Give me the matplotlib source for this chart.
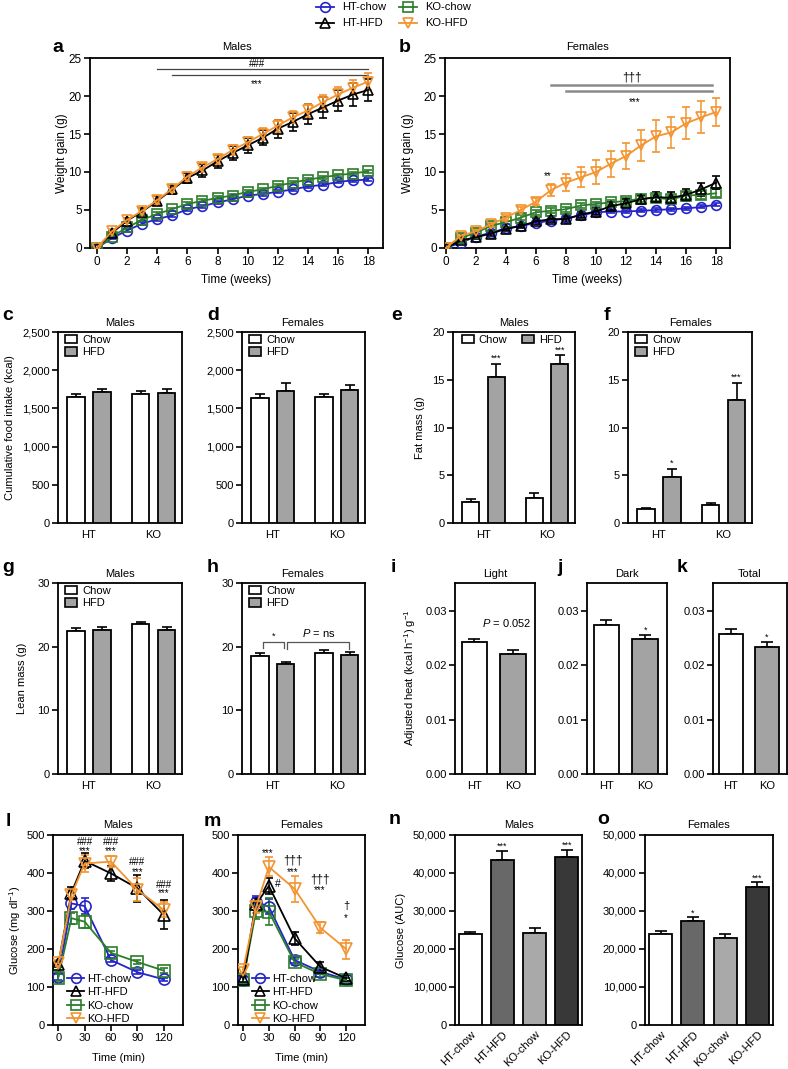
import numpy as np
import matplotlib
matplotlib.use('Agg')
import matplotlib.pyplot as plt
from matplotlib.lines import Line2D
from matplotlib.patches import Patch
from matplotlib.ticker import FuncFormatter

plt.rcParams['font.family'] = ['Liberation Sans', 'DejaVu Sans']
plt.rcParams['mathtext.fontset'] = 'custom'
plt.rcParams['mathtext.rm'] = 'Liberation Sans'
plt.rcParams['mathtext.it'] = 'Liberation Sans:italic'
plt.rcParams['mathtext.bf'] = 'Liberation Sans:bold'

# ---------------- data ----------------
weeks = list(range(19))
male_ht_chow = [0, 1.3, 2.3, 3.2, 3.8, 4.3, 5.1, 5.5, 6.0, 6.4, 6.9, 7.1, 7.4, 7.7, 8.1, 8.3, 8.7, 8.9, 9.0]
male_ht_chow_err = [0, 0.1, 0.2, 0.2, 0.2, 0.2, 0.2, 0.2, 0.2, 0.2, 0.2, 0.2, 0.2, 0.2, 0.2, 0.2, 0.2, 0.2, 0.2]
male_ko_chow = [0, 1.5, 2.7, 3.7, 4.5, 5.1, 5.8, 6.2, 6.6, 6.9, 7.4, 7.7, 8.2, 8.6, 9.0, 9.3, 9.6, 9.8, 10.1]
male_ko_chow_err = [0, 0.1, 0.2, 0.2, 0.2, 0.2, 0.2, 0.2, 0.2, 0.2, 0.2, 0.2, 0.2, 0.2, 0.2, 0.2, 0.2, 0.2, 0.2]
male_ht_hfd = [0, 2.0, 3.6, 4.8, 6.2, 7.7, 9.2, 10.2, 11.4, 12.5, 13.5, 14.5, 15.7, 16.6, 17.6, 18.5, 19.4, 20.2, 20.8]
male_ht_hfd_err = [0, 0.2, 0.3, 0.4, 0.6, 0.6, 0.7, 0.8, 0.9, 0.9, 1.0, 1.0, 1.2, 1.2, 1.3, 1.4, 1.4, 1.5, 1.5]
male_ko_hfd = [0, 2.2, 3.7, 4.9, 6.3, 7.8, 9.4, 10.6, 11.7, 12.9, 13.9, 15.0, 16.1, 17.2, 18.1, 19.2, 20.2, 21.1, 21.9]
male_ko_hfd_err = [0, 0.3, 0.3, 0.4, 0.5, 0.5, 0.6, 0.6, 0.6, 0.7, 0.7, 0.8, 0.8, 0.8, 0.9, 0.9, 1.0, 1.0, 1.1]

fem_ht_chow = [0, 0.7, 1.5, 2.0, 2.6, 2.9, 3.3, 3.6, 3.9, 4.3, 4.7, 4.8, 4.8, 4.9, 5.0, 5.1, 5.2, 5.4, 5.7]
fem_ht_chow_err = [0, 0.1, 0.1, 0.1, 0.2, 0.2, 0.2, 0.2, 0.2, 0.2, 0.2, 0.2, 0.2, 0.2, 0.2, 0.2, 0.2, 0.2, 0.2]
fem_ht_hfd = [0, 1.0, 1.4, 1.9, 2.5, 2.9, 3.5, 3.8, 3.8, 4.4, 4.8, 5.5, 5.9, 6.4, 6.7, 6.6, 7.0, 7.7, 8.6]
fem_ht_hfd_err = [0, 0.2, 0.2, 0.3, 0.3, 0.3, 0.4, 0.4, 0.4, 0.4, 0.5, 0.5, 0.5, 0.6, 0.7, 0.8, 0.8, 0.9, 0.9]
fem_ko_chow = [0, 1.3, 2.0, 2.9, 3.4, 4.0, 4.7, 4.9, 5.1, 5.6, 5.8, 6.0, 6.2, 6.5, 6.6, 6.4, 6.9, 7.0, 7.2]
fem_ko_chow_err = [0, 0.1, 0.2, 0.2, 0.2, 0.3, 0.3, 0.3, 0.3, 0.3, 0.3, 0.3, 0.4, 0.4, 0.4, 0.4, 0.5, 0.5, 0.5]
fem_ko_hfd = [0, 1.6, 2.2, 3.1, 4.0, 5.0, 6.1, 7.6, 8.6, 9.3, 10.0, 11.1, 12.1, 13.5, 14.7, 15.2, 16.4, 17.2, 17.9]
fem_ko_hfd_err = [0, 0.2, 0.3, 0.3, 0.4, 0.4, 0.5, 0.8, 1.1, 1.3, 1.6, 1.7, 1.7, 2.0, 2.1, 2.0, 2.1, 2.1, 1.9]

genotypes = ['HT', 'KO']
diet_labels = ['Chow', 'HFD']
food_male_chow = [1655, 1694]; food_male_chow_err = [35, 36]
food_male_hfd = [1712, 1708]; food_male_hfd_err = [40, 48]
food_fem_chow = [1642, 1646]; food_fem_chow_err = [48, 48]
food_fem_hfd = [1725, 1743]; food_fem_hfd_err = [105, 57]
fat_male_chow = [2.2, 2.6]; fat_male_chow_err = [0.3, 0.5]
fat_male_hfd = [15.3, 16.6]; fat_male_hfd_err = [1.4, 1.0]
fat_fem_chow = [1.47, 1.9]; fat_fem_chow_err = [0.11, 0.2]
fat_fem_hfd = [4.8, 12.9]; fat_fem_hfd_err = [0.85, 1.8]
lean_male_chow = [22.5, 23.6]; lean_male_chow_err = [0.4, 0.3]
lean_male_hfd = [22.65, 22.65]; lean_male_hfd_err = [0.45, 0.45]
lean_fem_chow = [18.56, 19.0]; lean_fem_chow_err = [0.42, 0.45]
lean_fem_hfd = [17.3, 18.7]; lean_fem_hfd_err = [0.37, 0.5]

heat_titles = ['Light', 'Dark', 'Total']
heat_vals = [[0.02427, 0.02205], [0.02754, 0.02489], [0.02587, 0.02347]]
heat_errs = [[0.00068, 0.00075], [0.00092, 0.00074], [0.0008, 0.0008]]

gtt_time = [0, 15, 30, 60, 90, 120]
gm_ht_chow = [127, 320, 313, 171, 139, 120]; gm_ht_chow_err = [8, 15, 20, 6, 5, 4]
gm_ht_hfd = [160, 348, 432, 399, 360, 290]; gm_ht_hfd_err = [8, 15, 20, 20, 35, 38]
gm_ko_chow = [125, 281, 272, 190, 166, 143]; gm_ko_chow_err = [8, 15, 18, 6, 5, 6]
gm_ko_hfd = [162, 342, 425, 430, 356, 303]; gm_ko_hfd_err = [8, 12, 22, 15, 30, 20]
gf_ht_chow = [118, 325, 311, 171, 140, 120]; gf_ht_chow_err = [8, 15, 20, 8, 6, 5]
gf_ht_hfd = [120, 318, 366, 228, 153, 123]; gf_ht_hfd_err = [8, 15, 20, 18, 12, 8]
gf_ko_chow = [118, 300, 298, 165, 134, 118]; gf_ko_chow_err = [10, 20, 35, 8, 8, 6]
gf_ko_hfd = [145, 310, 416, 358, 256, 200]; gf_ko_hfd_err = [8, 15, 25, 35, 15, 25]

auc_groups = ['HT-chow', 'HT-HFD', 'KO-chow', 'KO-HFD']
auc_male = [23900, 43400, 24300, 44300]; auc_male_err = [700, 2500, 1300, 1750]
auc_fem = [23900, 27450, 22800, 36400]; auc_fem_err = [850, 1050, 1060, 1300]

series_labels = ['HT-chow', 'HT-HFD', 'KO-chow', 'KO-HFD']

# ---------------- layout helpers ----------------
W, H = 788, 1069
fig = plt.figure(figsize=(W / 100, H / 100), dpi=100)

BLUE = '#2424c8'
GREEN = '#2b7d2b'
ORANGE = '#f39430'
BLACK = '#000000'
GRAY = '#a3a3a3'
FS = 8
SERIES_STYLE = {'HT-chow': (BLUE, 'o'), 'HT-HFD': (BLACK, '^'),
                'KO-chow': (GREEN, 's'), 'KO-HFD': (ORANGE, 'v')}


def px_ax(l, r, t, b):
    return fig.add_axes([l / W, 1 - b / H, (r - l) / W, (b - t) / H])


def ftext(x, y, s, **kw):
    kw.setdefault('fontsize', FS)
    fig.text(x / W, 1 - y / H, s, **kw)


def style(ax, fs=FS):
    for sp in ax.spines.values():
        sp.set_linewidth(1.3)
    ax.tick_params(axis='both', direction='out', length=4, width=1.2,
                   labelsize=fs, top=False, right=False, pad=2)


comma = FuncFormatter(lambda v, p: f'{int(round(v)):,}')


def series(ax, x, y, err, name, ms):
    c, m = SERIES_STYLE[name]
    ax.errorbar(x, y, yerr=err, color=c, marker=m, ms=ms, mfc='none', mec=c,
                mew=1.2, lw=1.3, capsize=3, elinewidth=1.1, capthick=1.1,
                zorder=3)


def grouped(ax, chow, chow_err, hfd, hfd_err, ylim, yticks, legend='stack', fmt=None):
    pos = np.arange(len(genotypes), dtype=float)
    off, w = 0.2, 0.27
    ax.errorbar(pos - off, chow, yerr=[np.zeros(len(chow)), chow_err], fmt='none',
                ecolor='black', elinewidth=1.2, capsize=3.5, capthick=1.2, zorder=2)
    ax.errorbar(pos + off, hfd, yerr=[np.zeros(len(hfd)), hfd_err], fmt='none',
                ecolor='black', elinewidth=1.2, capsize=3.5, capthick=1.2, zorder=2)
    ax.bar(pos - off, chow, w, color='white', edgecolor='black', linewidth=1.3, zorder=3)
    ax.bar(pos + off, hfd, w, color=GRAY, edgecolor='black', linewidth=1.3, zorder=3)
    ax.set_xlim(-0.48, 1.44)
    ax.set_ylim(*ylim)
    ax.set_yticks(yticks)
    if fmt is not None:
        ax.yaxis.set_major_formatter(fmt)
    ax.set_xticks(pos)
    ax.set_xticklabels(genotypes)
    style(ax)
    ax.tick_params(axis='x', length=0, pad=5)
    handles = [Patch(facecolor='white', edgecolor='black', linewidth=1.2),
               Patch(facecolor=GRAY, edgecolor='black', linewidth=1.2)]
    if legend == 'stack':
        ax.legend(handles, diet_labels, loc='upper left', bbox_to_anchor=(0.055, 0.985),
                  frameon=False, fontsize=FS, borderpad=0, borderaxespad=0,
                  handlelength=1.1, handleheight=0.75, handletextpad=0.45, labelspacing=0.22)
    else:
        ax.legend(handles, diet_labels, loc='upper left', bbox_to_anchor=(0.07, 0.985),
                  frameon=False, fontsize=FS, borderpad=0, borderaxespad=0, ncol=2,
                  handlelength=1.1, handleheight=0.75, handletextpad=0.45,
                  columnspacing=1.3)


def star(ax, x, y, s, fs=6.5, **kw):
    ax.text(x, y, s, ha='center', va='center', fontsize=fs, **kw)


# ---------------- top legend ----------------
for i, name in enumerate(series_labels):
    col = 0 if name.startswith('HT') else 1
    row = 0 if name.endswith('chow') else 1
    mx = [325, 408][col]
    ty = [7, 23][row]
    c, m = SERIES_STYLE[name]
    yy = 1 - ty / H
    fig.add_artist(Line2D([(mx - 9) / W, (mx + 9) / W], [yy, yy], transform=fig.transFigure,
                          color=c, lw=1.3))
    fig.add_artist(Line2D([mx / W], [yy], transform=fig.transFigure, color=c, marker=m,
                          ms=7, mfc='none', mec=c, mew=1.2, lw=0))
    ftext(mx + 17, ty, name, ha='left', va='center')

# ---------------- panel a / b ----------------
panels_ab = [
    (90, 383, 'a', 'Males', [male_ht_chow, male_ht_hfd, male_ko_chow, male_ko_hfd],
     [male_ht_chow_err, male_ht_hfd_err, male_ko_chow_err, male_ko_hfd_err], 62, 58),
    (445, 730, 'b', 'Females', [fem_ht_chow, fem_ht_hfd, fem_ko_chow, fem_ko_hfd],
     [fem_ht_chow_err, fem_ht_hfd_err, fem_ko_chow_err, fem_ko_hfd_err], 408, 408),
]
axes_ab = []
for l, r, letter, title, ys, es, ylx, letx in panels_ab:
    ax = px_ax(l, r, 58, 248)
    order = [0, 2, 1, 3]
    for k in order:
        series(ax, weeks, ys[k], es[k], series_labels[k], 7)
    ax.set_ylim(0, 25)
    ax.set_yticks([0, 5, 10, 15, 20, 25])
    ax.set_xticks(range(0, 19, 2))
    style(ax, fs=8.5)
    ftext((l + r) / 2, 47, title, ha='center', va='center')
    ftext(ylx, 153, 'Weight gain (g)', rotation=90, ha='center', va='center', fontsize=8.5)
    ftext((l + r) / 2, 280, 'Time (weeks)', ha='center', va='center', fontsize=8.5)
    axes_ab.append(ax)
ftext(58, 47, 'a', fontsize=14, fontweight='bold', ha='center', va='center')
ftext(405, 47, 'b', fontsize=14, fontweight='bold', ha='center', va='center')

ax = axes_ab[0]
ax.set_xlim(-0.46, 18.98)
ax.plot([4, 18], [23.5, 23.5], color='#444444', lw=0.9)
ax.plot([5, 18], [22.8, 22.8], color='#444444', lw=0.9)
star(ax, 10.6, 24.2, '###', fs=7)
star(ax, 10.6, 21.6, '***', fs=7)

ax = axes_ab[1]
ax.set_xlim(-0.05, 18.92)
ax.plot([7, 17.7], [21.4, 21.4], color='#8a8a8a', lw=1.8)
ax.plot([8, 17.7], [20.6, 20.6], color='#8a8a8a', lw=1.8)
star(ax, 12.4, 22.5, '†††', fs=8.5)
star(ax, 12.6, 19.2, '***', fs=7)
star(ax, 6.8, 9.4, '**', fs=7)

# ---------------- panels c-f ----------------
ax = px_ax(58, 182, 332, 523)
grouped(ax, food_male_chow, food_male_chow_err, food_male_hfd, food_male_hfd_err,
        (0, 2500), [0, 500, 1000, 1500, 2000, 2500], fmt=comma)
ftext(120, 323, 'Males', ha='center', va='center')
ftext(10, 428, 'Cumulative food intake (kcal)', rotation=90, ha='center', va='center')
ftext(8, 316, 'c', fontsize=14, fontweight='bold', ha='center', va='center')

ax = px_ax(242, 365, 332, 523)
grouped(ax, food_fem_chow, food_fem_chow_err, food_fem_hfd, food_fem_hfd_err,
        (0, 2500), [0, 500, 1000, 1500, 2000, 2500], fmt=comma)
ftext(303, 323, 'Females', ha='center', va='center')
ftext(213, 316, 'd', fontsize=14, fontweight='bold', ha='center', va='center')

ax = px_ax(453, 575, 332, 523)
grouped(ax, fat_male_chow, fat_male_chow_err, fat_male_hfd, fat_male_hfd_err,
        (0, 20), [0, 5, 10, 15, 20], legend='row')
star(ax, 0.2, 17.3, '***')
star(ax, 1.2, 18.1, '***')
ftext(514, 323, 'Males', ha='center', va='center')
ftext(420, 428, 'Fat mass (g)', rotation=90, ha='center', va='center')
ftext(397, 316, 'e', fontsize=14, fontweight='bold', ha='center', va='center')

ax = px_ax(628, 752, 332, 523)
grouped(ax, fat_fem_chow, fat_fem_chow_err, fat_fem_hfd, fat_fem_hfd_err,
        (0, 20), [0, 5, 10, 15, 20])
star(ax, 0.2, 6.3, '*')
star(ax, 1.2, 15.3, '***')
ftext(690, 323, 'Females', ha='center', va='center')
ftext(607, 316, 'f', fontsize=14, fontweight='bold', ha='center', va='center')

# ---------------- panels g-h ----------------
ax = px_ax(58, 182, 583, 774)
grouped(ax, lean_male_chow, lean_male_chow_err, lean_male_hfd, lean_male_hfd_err,
        (0, 30), [0, 10, 20, 30])
ftext(120, 574, 'Males', ha='center', va='center')
ftext(22, 678, 'Lean mass (g)', rotation=90, ha='center', va='center')
ftext(8, 567, 'g', fontsize=14, fontweight='bold', ha='center', va='center')

ax = px_ax(242, 365, 583, 774)
grouped(ax, lean_fem_chow, lean_fem_chow_err, lean_fem_hfd, lean_fem_hfd_err,
        (0, 30), [0, 10, 20, 30])
ax.plot([-0.15, -0.15, 0.17, 0.17], [19.8, 20.8, 20.8, 19.8], color='#555555', lw=0.9)
ax.plot([0.22, 0.22, 1.19, 1.19], [19.6, 20.8, 20.8, 19.6], color='#555555', lw=0.9)
star(ax, 0.01, 21.6, '*')
ax.text(0.71, 22.2, '$\\mathit{P}$ = ns', ha='center', va='center', fontsize=FS)
ftext(303, 574, 'Females', ha='center', va='center')
ftext(213, 567, 'h', fontsize=14, fontweight='bold', ha='center', va='center')

# ---------------- panels i-k ----------------
heat_pos = [(455, 535, 'i', 393), (587, 667, 'j', 560), (713, 787, 'k', 682)]
for idx, (l, r, letter, lx) in enumerate(heat_pos):
    ax = px_ax(l, r, 583, 774)
    pos = np.arange(len(genotypes), dtype=float)
    ax.errorbar(pos, heat_vals[idx], yerr=[np.zeros(2), heat_errs[idx]], fmt='none',
                ecolor='black', elinewidth=1.2, capsize=4, capthick=1.2, zorder=2)
    ax.bar(pos, heat_vals[idx], 0.66, color=['white', GRAY], edgecolor='black',
           linewidth=1.3, zorder=3)
    ax.set_xlim(-0.5, 1.56)
    ax.set_ylim(0, 0.0352)
    ax.set_yticks([0, 0.01, 0.02, 0.03])
    ax.set_yticklabels(['0.00', '0.01', '0.02', '0.03'])
    ax.set_xticks(pos)
    ax.set_xticklabels(genotypes)
    style(ax)
    ax.tick_params(axis='x', length=0, pad=5)
    ftext((l + r) / 2, 574, heat_titles[idx], ha='center', va='center')
    ftext(lx, 567, letter, fontsize=14, fontweight='bold', ha='center', va='center')
    if idx == 0:
        ax.text(0.83, 0.0278, '$\\mathit{P}$ = 0.052', ha='center', va='center', fontsize=FS)
    else:
        star(ax, 1, heat_vals[idx][1] + heat_errs[idx][1] + 0.0009, '*')
ftext(410, 678, 'Adjusted heat (kcal h$^{-1}$) g$^{-1}$', rotation=90, ha='center', va='center')

# ---------------- panels l-m ----------------
gtt_sets = [
    (53, 183, 'l', 'Males', [gm_ht_chow, gm_ht_hfd, gm_ko_chow, gm_ko_hfd],
     [gm_ht_chow_err, gm_ht_hfd_err, gm_ko_chow_err, gm_ko_hfd_err], 8),
    (238, 365, 'm', 'Females', [gf_ht_chow, gf_ht_hfd, gf_ko_chow, gf_ko_hfd],
     [gf_ht_chow_err, gf_ht_hfd_err, gf_ko_chow_err, gf_ko_hfd_err], 212),
]
axes_lm = []
for l, r, letter, title, ys, es, lx in gtt_sets:
    ax = px_ax(l, r, 835, 1025)
    for k in [0, 2, 1, 3]:
        series(ax, gtt_time, ys[k], es[k], series_labels[k], 8)
    ax.set_xlim(-6, 142)
    ax.set_ylim(0, 500)
    ax.set_xticks([0, 30, 60, 90, 120])
    ax.set_yticks([0, 100, 200, 300, 400, 500])
    style(ax)
    handles = [Line2D([], [], color=SERIES_STYLE[n][0], marker=SERIES_STYLE[n][1], ms=7,
                      mfc='none', mec=SERIES_STYLE[n][0], mew=1.2, lw=1.3) for n in series_labels]
    ax.legend(handles, series_labels, loc='lower left', bbox_to_anchor=(0.11, 0.005),
              frameon=False, fontsize=FS, borderpad=0, borderaxespad=0,
              handlelength=1.5, handletextpad=0.3, labelspacing=0.3)
    ftext((l + r) / 2, 825, title, ha='center', va='center')
    ftext((l + r) / 2, 1058, 'Time (min)', ha='center', va='center')
    ftext(lx, 822, letter, fontsize=14, fontweight='bold', ha='center', va='center')
    axes_lm.append(ax)
ftext(15, 930, 'Glucose (mg dl$^{-1}$)', rotation=90, ha='center', va='center')

ax = axes_lm[0]
for x, y1, y2 in [(30, 481, 459), (60, 481, 459), (90, 430, 403), (120, 368, 346)]:
    star(ax, x, y1, '###', fs=7)
    star(ax, x, y2, '***', fs=7)

ax = axes_lm[1]
star(ax, 29, 452, '***', fs=7)
star(ax, 40, 370, '#', fs=7.5)
star(ax, 58, 432, '†††', fs=8.5)
star(ax, 58, 403, '***', fs=7)
star(ax, 89, 384, '†††', fs=8.5)
star(ax, 89, 355, '***', fs=7)
star(ax, 120, 314, '†', fs=8)
star(ax, 120, 281, '*', fs=7)

# ---------------- panels n-o ----------------
auc_colors = ['white', '#686868', '#a9a9a9', '#383838']
auc_sets = [(455, 582, 'n', 'Males', auc_male, auc_male_err, 395),
            (645, 773, 'o', 'Females', auc_fem, auc_fem_err, 603)]
for l, r, letter, title, vals, errs, lx in auc_sets:
    ax = px_ax(l, r, 835, 1025)
    pos = np.arange(len(auc_groups), dtype=float)
    ax.errorbar(pos, vals, yerr=[np.zeros(len(vals)), errs], fmt='none', ecolor='black',
                elinewidth=1.2, capsize=4, capthick=1.2, zorder=2)
    ax.bar(pos, vals, 0.72, color=auc_colors, edgecolor='black', linewidth=1.3, zorder=3)
    ax.set_xlim(-0.48, 3.48)
    ax.set_ylim(0, 50000)
    ax.set_yticks([0, 10000, 20000, 30000, 40000, 50000])
    ax.yaxis.set_major_formatter(comma)
    ax.set_xticks(pos)
    ax.set_xticklabels(auc_groups, rotation=45, ha='right', rotation_mode='anchor')
    style(ax)
    ax.tick_params(axis='x', length=0, pad=3)
    ftext((l + r) / 2, 825, title, ha='center', va='center')
    ftext(lx, 820, letter, fontsize=14, fontweight='bold', ha='center', va='center')
    if letter == 'n':
        star(ax, 1, 47000, '***')
        star(ax, 3, 47300, '***')
    else:
        star(ax, 1, 29300, '*')
        star(ax, 3, 38700, '***')
ftext(401, 930, 'Glucose (AUC)', rotation=90, ha='center', va='center')

fig.savefig('out.png', dpi=100)
